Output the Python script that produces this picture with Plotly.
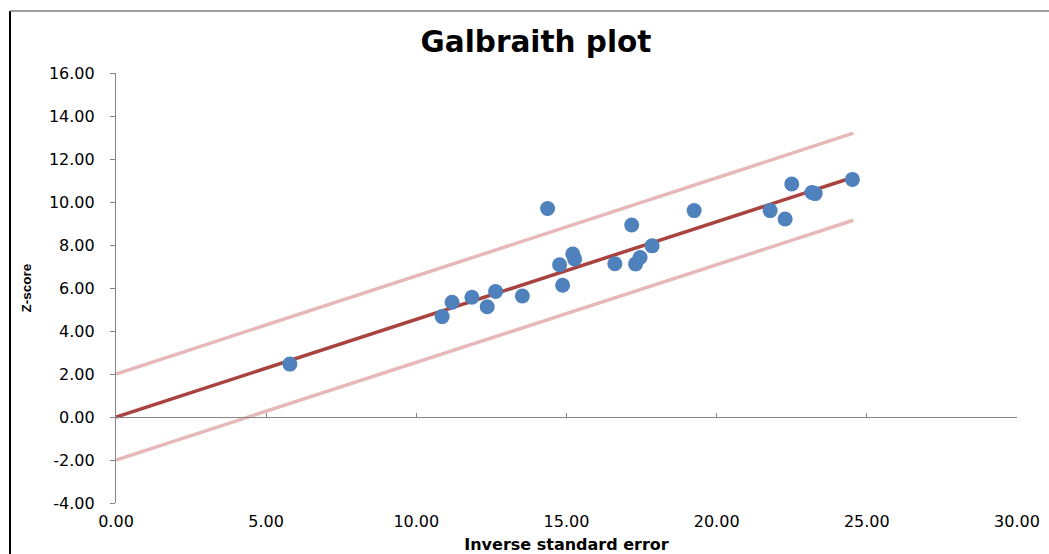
import plotly.graph_objects as go

# Data
inv_se = [5.79, 10.86, 11.19, 11.85, 12.36, 12.64, 13.53, 14.37, 14.77, 14.87,
          15.21, 15.27, 16.61, 17.17, 17.30, 17.45, 17.85, 19.25, 21.78, 22.28,
          22.50, 23.17, 23.28, 24.52]
z_score = [2.46, 4.67, 5.34, 5.57, 5.13, 5.84, 5.63, 9.70, 7.08, 6.13,
           7.58, 7.35, 7.13, 8.93, 7.12, 7.42, 7.96, 9.60, 9.60, 9.21,
           10.84, 10.44, 10.39, 11.05]

line_x = [0.0, 24.55]
center_y = [0.0, 11.15]
upper_y = [2.0, 13.2]
lower_y = [-2.0, 9.15]

x_ticks = [0, 5, 10, 15, 20, 25, 30]
y_ticks = [-4, -2, 0, 2, 4, 6, 8, 10, 12, 14, 16]
x_labels = [f"{v:.2f}" for v in x_ticks]
y_labels = [f"{v:.2f}" for v in y_ticks]

MARKER = "#4F81BD"
CENTER = "#A9433F"
BAND = "#E6B9B8"
AXIS = "#868686"
FONT = "DejaVu Sans"
NARROW = "Liberation Sans, Arial, sans-serif"

fig = go.Figure()
fig.add_trace(go.Scatter(x=line_x, y=upper_y, mode="lines",
                         line=dict(color=BAND, width=3.5), hoverinfo="skip", showlegend=False))
fig.add_trace(go.Scatter(x=line_x, y=lower_y, mode="lines",
                         line=dict(color=BAND, width=3.5), hoverinfo="skip", showlegend=False))
fig.add_trace(go.Scatter(x=line_x, y=center_y, mode="lines",
                         line=dict(color=CENTER, width=3.5), hoverinfo="skip", showlegend=False))
fig.add_trace(go.Scatter(x=inv_se, y=z_score, mode="markers",
                         marker=dict(color=MARKER, size=15, line=dict(width=0)),
                         showlegend=False))
# invisible trace to activate the overlay x-axis drawn at y = 0
fig.add_trace(go.Scatter(x=[x_ticks[0]], y=[0], xaxis="x2", mode="markers",
                         marker=dict(opacity=0), hoverinfo="skip", showlegend=False))

L, R, T, B = 116, 32, 73, 51
W, H = 1049, 554
pw, ph = W - L - R, H - T - B

fig.update_layout(
    width=W, height=H,
    margin=dict(l=L, r=R, t=T, b=B, autoexpand=False),
    paper_bgcolor="white", plot_bgcolor="white",
    title=dict(text="<b>Galbraith plot</b>", x=(536 - L) / pw, xref="paper",
               xanchor="center", y=1 - 42 / H, yanchor="middle",
               font=dict(family=FONT, size=29.5, color="black")),
    font=dict(family=FONT, color="black"),
    xaxis=dict(range=[0, 30], tickvals=x_ticks, ticktext=x_labels, automargin=False,
               showline=False, ticks="", showgrid=False, zeroline=False,
               ticklabelstandoff=7,
               tickfont=dict(family=FONT, size=16, color="black"),
               title=dict(text="<b>Inverse standard error</b>", standoff=8,
                          font=dict(family=FONT, size=16, color="black"))),
    xaxis2=dict(range=[0, 30], tickvals=x_ticks, overlaying="x", anchor="free",
                position=(0 - y_ticks[0]) / (y_ticks[-1] - y_ticks[0]), automargin=False,
                showline=True, linecolor=AXIS, linewidth=1.2,
                ticks="inside", ticklen=4, tickcolor=AXIS, tickwidth=1.2,
                showticklabels=False, showgrid=False, zeroline=False),
    yaxis=dict(range=[-4, 16], tickvals=y_ticks, ticktext=y_labels, automargin=False,
               showline=True, linecolor=AXIS, linewidth=1.2,
               ticks="outside", ticklen=5, tickcolor=AXIS, tickwidth=1.2,
               showgrid=False, zeroline=False, ticklabelstandoff=12,
               tickfont=dict(family=FONT, size=16, color="black"),
               title=dict(text="<b>Z-score</b>", standoff=14,
                          font=dict(family=NARROW, size=13.5, color="black"))),
)

# chart-area border (left and top edges visible in the reference)
fig.add_shape(type="line", xref="paper", yref="paper",
              x0=(10 - L) / pw, x1=(10 - L) / pw, y0=(H - B - 11) / ph, y1=-0.2,
              line=dict(color="black", width=2))
fig.add_shape(type="line", xref="paper", yref="paper",
              x0=(10 - L) / pw, x1=1.1, y0=(H - B - 11) / ph, y1=(H - B - 11) / ph,
              line=dict(color="#7F7F7F", width=1.5))

fig.write_html("out.html", config={"displayModeBar": False},
               post_script="document.body.style.margin='0';document.body.style.overflow='hidden';")
